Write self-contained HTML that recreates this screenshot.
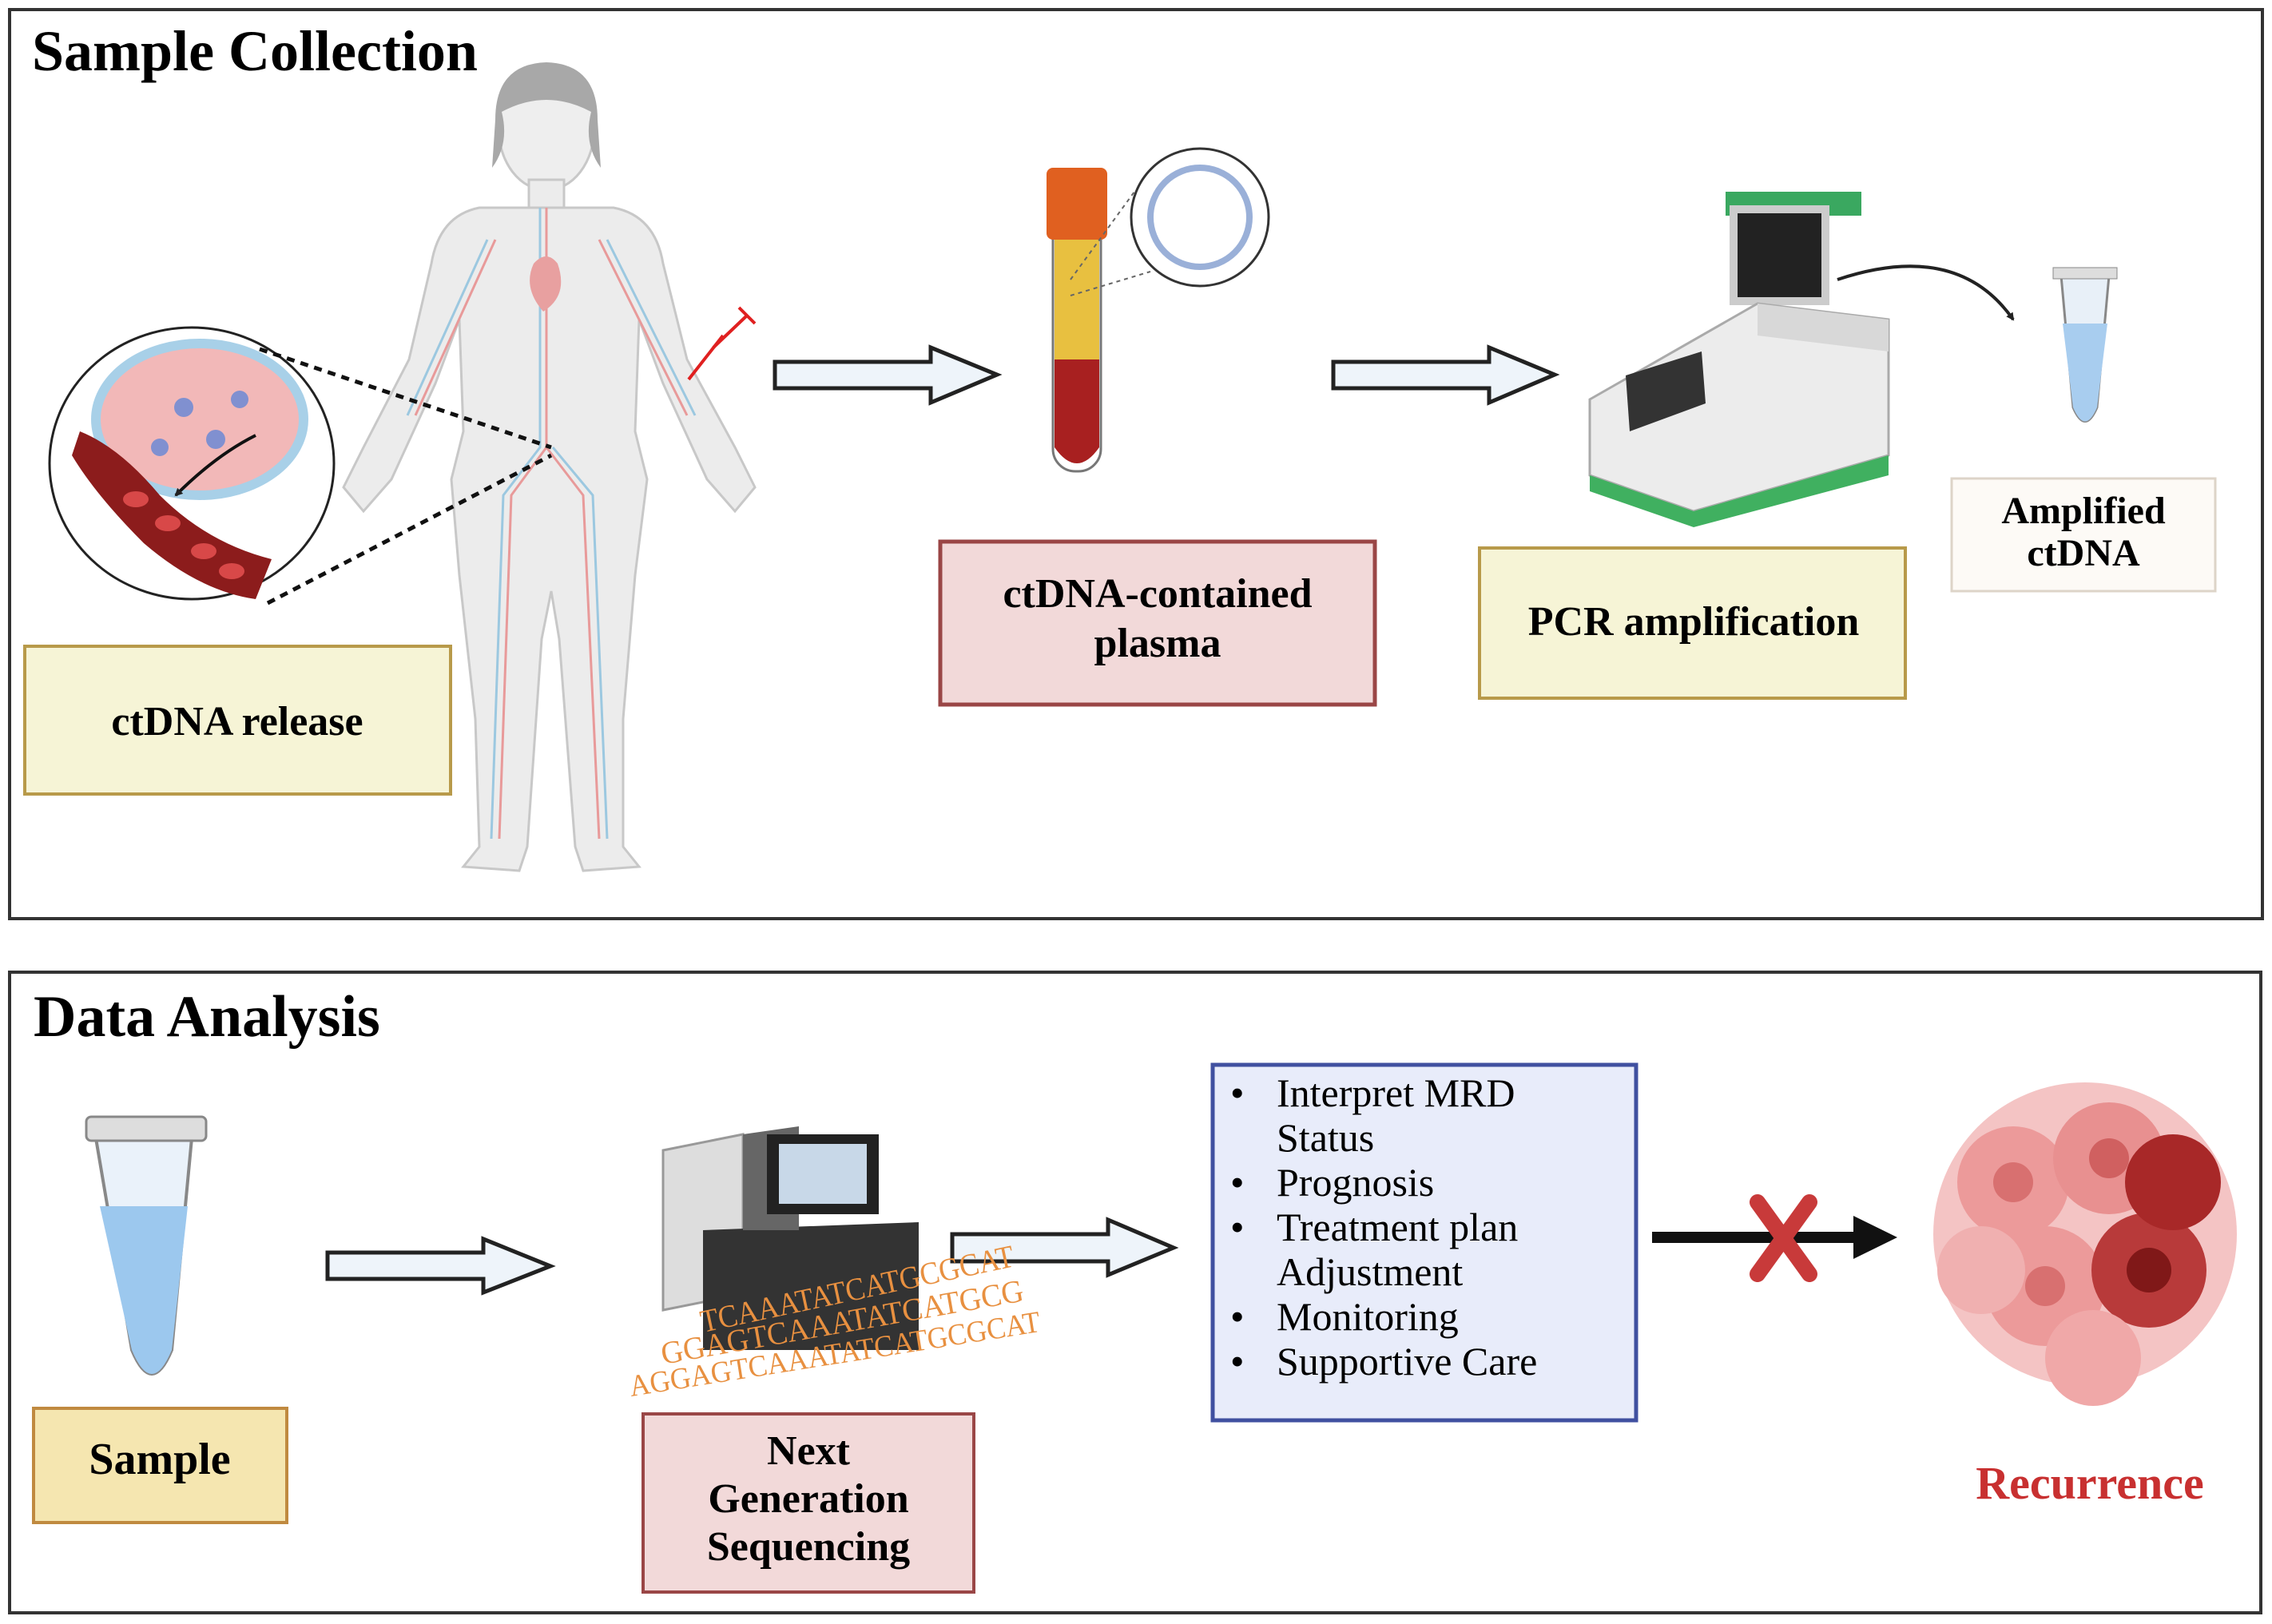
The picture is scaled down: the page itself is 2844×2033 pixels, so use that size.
<!DOCTYPE html>
<html><head><meta charset="utf-8"><style>
html,body{margin:0;padding:0;background:#fff;}
svg{display:block;}
text{font-family:"Liberation Serif",serif;}
</style></head><body>
<svg width="2844" height="2033" viewBox="0 0 2844 2033" xmlns="http://www.w3.org/2000/svg">
<defs>
<marker id="ah" markerWidth="10" markerHeight="10" refX="8" refY="5" orient="auto" markerUnits="userSpaceOnUse"><path d="M0,0 L10,5 L0,10 z" fill="#222"/></marker>
</defs>
<!-- panels -->
<rect x="12" y="12" width="2820" height="1138" fill="#fff" stroke="#333" stroke-width="4"/>
<rect x="12" y="1217" width="2818" height="802" fill="#fff" stroke="#333" stroke-width="4"/>
<text x="40" y="88" font-size="72" font-weight="bold">Sample Collection</text>
<text x="42" y="1297" font-size="74" font-weight="bold">Data Analysis</text>

<!-- human figure -->
<g fill="#ececec" stroke="#c8c8c8" stroke-width="3">
<ellipse cx="684" cy="160" rx="60" ry="78" fill="#eee"/>
<path d="M620,150 Q620,80 684,78 Q748,80 748,150 L752,210 Q730,180 740,140 Q684,110 628,140 Q638,180 616,210 Z" fill="#a8a8a8" stroke="none"/>
<rect x="662" y="225" width="44" height="40"/>
<path d="M600,260 L768,260 Q820,270 830,330 L860,450 L920,560 L945,610 L920,640 L885,600 L830,480 L800,400 L795,540 L810,600 L795,720 L780,900 L780,1060 L800,1085 L730,1090 L720,1060 L700,800 L690,740 L678,800 L660,1060 L650,1090 L580,1085 L600,1060 L595,900 L575,720 L565,600 L580,540 L575,400 L545,480 L490,600 L455,640 L430,610 L455,560 L512,450 L540,330 Q550,270 600,260 Z"/>
</g>
<g stroke="#e89a9a" stroke-width="3" fill="none"><path d="M684,260 L684,560 L640,620 L625,1050 M684,560 L730,620 L750,1050 M620,300 L520,520 M750,300 L860,520"/></g>
<g stroke="#9cc8e0" stroke-width="3" fill="none"><path d="M676,260 L676,560 L630,620 L615,1050 M692,560 L742,620 L760,1050 M610,300 L510,520 M760,300 L870,520"/></g>
<path d="M668,330 q16,-18 30,0 q14,40 -18,60 q-26,-30 -12,-60z" fill="#e8a0a0"/>
<!-- syringe -->
<g stroke="#e02020" stroke-width="4"><line x1="862" y1="475" x2="905" y2="420"/><line x1="893" y1="435" x2="935" y2="395"/><line x1="925" y1="385" x2="945" y2="405"/></g>
<!-- tumor circle -->
<ellipse cx="240" cy="580" rx="178" ry="170" fill="#fff" stroke="#222" stroke-width="3"/>
<ellipse cx="250" cy="525" rx="130" ry="95" fill="#f2b8b8" stroke="#a8d0e8" stroke-width="12"/>
<g fill="#8090d0"><circle cx="230" cy="510" r="12"/><circle cx="270" cy="550" r="12"/><circle cx="300" cy="500" r="11"/><circle cx="200" cy="560" r="11"/></g>
<path d="M100,540 Q150,560 200,620 Q260,680 340,700 L320,750 Q250,740 180,680 Q120,620 90,570 Z" fill="#8c1c1c"/>
<g fill="#d84848"><ellipse cx="170" cy="625" rx="16" ry="10"/><ellipse cx="210" cy="655" rx="16" ry="10"/><ellipse cx="255" cy="690" rx="16" ry="10"/><ellipse cx="290" cy="715" rx="16" ry="10"/></g>
<path d="M320,545 Q270,570 220,620" stroke="#111" stroke-width="4" fill="none" marker-end="url(#ah)"/>
<g stroke="#111" stroke-width="5" stroke-dasharray="10,8"><line x1="325" y1="437" x2="690" y2="560"/><line x1="335" y1="755" x2="690" y2="570"/></g>

<!-- boxes top -->
<rect x="31" y="809" width="533" height="185" fill="#f6f4d6" stroke="#b89a4a" stroke-width="4"/>
<text x="297" y="920" font-size="52" font-weight="bold" text-anchor="middle">ctDNA release</text>
<rect x="1177" y="678" width="544" height="204" fill="#f2d9d9" stroke="#9a4646" stroke-width="5"/>
<text x="1449" y="760" font-size="52" font-weight="bold" text-anchor="middle">ctDNA-contained</text>
<text x="1449" y="822" font-size="52" font-weight="bold" text-anchor="middle">plasma</text>
<rect x="1852" y="686" width="533" height="188" fill="#f6f4d6" stroke="#b89a4a" stroke-width="4"/>
<text x="2120" y="795" font-size="52" font-weight="bold" text-anchor="middle">PCR amplification</text>
<rect x="2443" y="599" width="330" height="141" fill="#fdfaf6" stroke="#ddd4c8" stroke-width="3"/>
<text x="2608" y="655" font-size="48" font-weight="bold" text-anchor="middle">Amplified</text>
<text x="2608" y="708" font-size="48" font-weight="bold" text-anchor="middle">ctDNA</text>

<!-- hollow arrows -->
<g fill="#eef4fa" stroke="#222" stroke-width="5">
<path d="M970,453 L1165,453 L1165,435 L1248,469 L1165,504 L1165,486 L970,486 Z"/>
<path d="M1669,453 L1864,453 L1864,435 L1946,469 L1864,504 L1864,486 L1669,486 Z"/>
<path d="M410,1568 L605,1568 L605,1551 L689,1585 L605,1618 L605,1601 L410,1601 Z"/>
<path d="M1192,1545 L1387,1545 L1387,1527 L1469,1562 L1387,1596 L1387,1579 L1192,1579 Z"/>
</g>

<!-- blood tube -->
<rect x="1318" y="250" width="60" height="340" rx="28" fill="#fff" stroke="#777" stroke-width="3"/>
<rect x="1320" y="300" width="56" height="150" fill="#e8c040"/>
<path d="M1320,450 L1376,450 L1376,560 Q1348,600 1320,560 Z" fill="#a82020"/>
<rect x="1310" y="210" width="76" height="90" rx="8" fill="#e06020"/>
<circle cx="1502" cy="272" r="86" fill="#fff" stroke="#333" stroke-width="3"/>
<circle cx="1502" cy="272" r="62" fill="none" stroke="#9ab0d8" stroke-width="8"/>
<g stroke="#666" stroke-width="2" stroke-dasharray="5,5"><line x1="1340" y1="350" x2="1420" y2="240"/><line x1="1340" y1="370" x2="1440" y2="340"/></g>

<!-- PCR machine -->
<rect x="2160" y="240" width="170" height="30" fill="#3aa860"/>
<rect x="2170" y="262" width="115" height="115" fill="#222" stroke="#ccc" stroke-width="10"/>
<path d="M1990,500 L2200,380 L2364,400 L2364,570 L2120,640 L1990,595 Z" fill="#ececec" stroke="#aaa" stroke-width="3"/>
<path d="M2200,380 L2364,400 L2364,440 L2200,420 Z" fill="#d8d8d8"/>
<path d="M2120,640 L2364,570 L2364,595 L2120,660 L1990,615 L1990,595 Z" fill="#40b060"/>
<path d="M2035,470 L2130,440 L2135,505 L2040,540 Z" fill="#333"/>
<path d="M2300,350 Q2450,300 2520,400" stroke="#222" stroke-width="4" fill="none" marker-end="url(#ah)"/>
<!-- small tube -->
<path d="M2580,345 L2640,345 L2625,510 Q2610,545 2595,510 Z" fill="#e8f0f8" stroke="#888" stroke-width="3"/>
<path d="M2582,405 L2638,405 L2625,510 Q2610,545 2595,510 Z" fill="#a8cdef"/>
<rect x="2570" y="335" width="80" height="14" fill="#ddd" stroke="#888"/>

<!-- bottom sample tube -->
<path d="M120,1425 L240,1425 L215,1690 Q190,1750 165,1690 Z" fill="#eaf2fa" stroke="#888" stroke-width="4"/>
<path d="M125,1510 L235,1510 L215,1690 Q190,1750 165,1690 Z" fill="#9cc8ee"/>
<rect x="108" y="1398" width="150" height="30" rx="6" fill="#ddd" stroke="#888" stroke-width="3"/>
<rect x="42" y="1763" width="317" height="143" fill="#f5e6b0" stroke="#c08a40" stroke-width="4"/>
<text x="200" y="1845" font-size="56" font-weight="bold" text-anchor="middle">Sample</text>

<!-- NGS machine -->
<path d="M830,1440 L930,1420 L930,1620 L830,1640 Z" fill="#ddd" stroke="#999" stroke-width="3"/>
<path d="M880,1540 L1150,1530 L1150,1690 L880,1690 Z" fill="#333"/>
<path d="M930,1420 L1000,1410 L1000,1540 L930,1540 Z" fill="#666"/>
<rect x="960" y="1420" width="140" height="100" fill="#222"/>
<rect x="975" y="1432" width="110" height="75" fill="#c8d8e8"/>
<g fill="#e89040" font-family="Liberation Sans,sans-serif">
<text x="880" y="1668" font-size="40" textLength="400" lengthAdjust="spacingAndGlyphs" transform="rotate(-12 880 1668)">TCAAATATCATGCGCAT</text>
<text x="830" y="1708" font-size="40" textLength="460" lengthAdjust="spacingAndGlyphs" transform="rotate(-10 830 1708)">GGAGTCAAATATCATGCG</text>
<text x="790" y="1748" font-size="38" textLength="520" lengthAdjust="spacingAndGlyphs" transform="rotate(-9 790 1748)">AGGAGTCAAATATCATGCGCAT</text>
</g>
<rect x="805" y="1770" width="414" height="223" fill="#f2d9d9" stroke="#9a4646" stroke-width="4"/>
<text x="1012" y="1833" font-size="52" font-weight="bold" text-anchor="middle">Next</text>
<text x="1012" y="1893" font-size="52" font-weight="bold" text-anchor="middle">Generation</text>
<text x="1012" y="1953" font-size="52" font-weight="bold" text-anchor="middle">Sequencing</text>

<!-- list box -->
<rect x="1518" y="1333" width="530" height="445" fill="#e8ecfa" stroke="#4050a0" stroke-width="5"/>
<g font-size="50">
<text x="1540" y="1385">•</text><text x="1598" y="1385">Interpret MRD</text>
<text x="1598" y="1441">Status</text>
<text x="1540" y="1497">•</text><text x="1598" y="1497">Prognosis</text>
<text x="1540" y="1553">•</text><text x="1598" y="1553">Treatment plan</text>
<text x="1598" y="1609">Adjustment</text>
<text x="1540" y="1665">•</text><text x="1598" y="1665">Monitoring</text>
<text x="1540" y="1721">•</text><text x="1598" y="1721">Supportive Care</text>
</g>

<!-- black arrow with X -->
<line x1="2068" y1="1549" x2="2330" y2="1549" stroke="#111" stroke-width="14"/>
<path d="M2320,1522 L2375,1549 L2320,1576 Z" fill="#111"/>
<g stroke="#c83a3a" stroke-width="20" stroke-linecap="round"><line x1="2200" y1="1505" x2="2265" y2="1595"/><line x1="2265" y1="1505" x2="2200" y2="1595"/></g>

<!-- recurrence cells -->
<g>
<circle cx="2610" cy="1545" r="190" fill="#f4c4c4"/>
<circle cx="2520" cy="1480" r="70" fill="#ec9a9a"/><circle cx="2640" cy="1450" r="70" fill="#e89090"/>
<circle cx="2560" cy="1610" r="75" fill="#ec9a9a"/><circle cx="2690" cy="1590" r="72" fill="#b83a3a"/>
<circle cx="2720" cy="1480" r="60" fill="#a82828"/><circle cx="2620" cy="1700" r="60" fill="#f0a8a8"/>
<circle cx="2480" cy="1590" r="55" fill="#f0b0b0"/>
<circle cx="2520" cy="1480" r="25" fill="#d87070"/><circle cx="2640" cy="1450" r="25" fill="#d06060"/>
<circle cx="2690" cy="1590" r="28" fill="#801818"/><circle cx="2560" cy="1610" r="25" fill="#d87070"/>
</g>
<text x="2616" y="1876" font-size="58" font-weight="bold" fill="#c83030" text-anchor="middle">Recurrence</text>
</svg>
</body></html>
